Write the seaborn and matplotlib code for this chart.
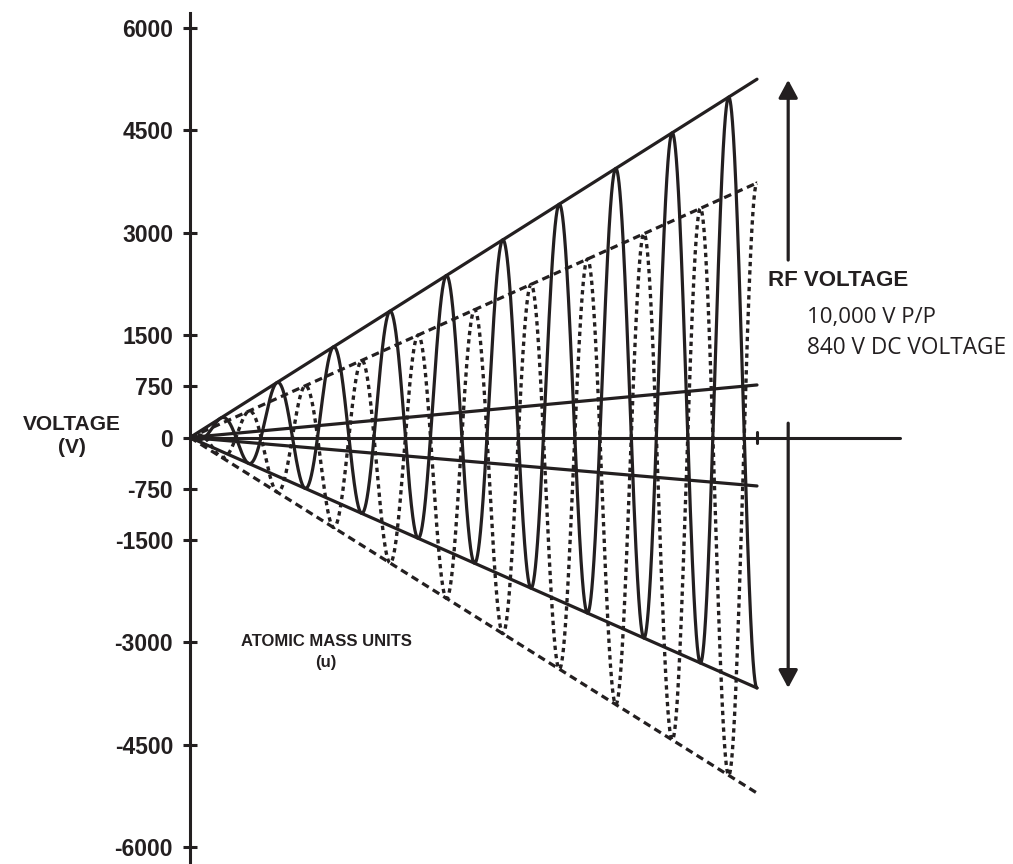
import numpy as np
import pandas as pd
import seaborn as sns
import matplotlib.pyplot as plt

# Data (x in mass units, scan ends at 100; y in volts)
y_ticks = [6000, 4500, 3000, 1500, 750, 0, -750, -1500, -3000, -4500, -6000]
scan_end = 100
solid_envelope = [5250, -3670]     # upper / lower solid line at scan end
dashed_envelope = [3730, -5210]    # upper / lower dashed line at scan end
dc_lines = [770, -710]             # the two thin DC lines at scan end
solid_first_peak = 15.3            # first solid RF maximum
rf_period = 9.96                   # distance between RF maxima
zero_axis_end = 125.2
arrow_up = [2600, 5240]
arrow_down = [210, -3670]

INK = '#231f20'
W, H = 1013, 864

sns.set_style("ticks")
plt.rcParams['font.family'] = ['Liberation Sans', 'DejaVu Sans']

fig = plt.figure(figsize=(W / 100, H / 100), dpi=100)
ax = fig.add_axes([190 / W, 0, (W - 190) / W, (H - 13) / H])

# RF waveforms: ramped amplitude, the two rod pairs in anti-phase
x = np.linspace(0, scan_end, 4000)
ramp = x / scan_end
phase = 2 * np.pi * (x - solid_first_peak) / rf_period
s_mid = (solid_envelope[0] + solid_envelope[1]) / 2
s_amp = (solid_envelope[0] - solid_envelope[1]) / 2
d_mid = (dashed_envelope[0] + dashed_envelope[1]) / 2
d_amp = (dashed_envelope[0] - dashed_envelope[1]) / 2
waves = pd.DataFrame({
    'u': x,
    'solid': ramp * (s_mid + s_amp * np.cos(phase)),
    'dashed': ramp * (d_mid - d_amp * np.cos(phase)),
})

sns.lineplot(data=waves, x='u', y='solid', ax=ax, color=INK, lw=2.3)
sns.lineplot(data=waves, x='u', y='dashed', ax=ax, color=INK, lw=2.4,
             linestyle=(0, (1.3, 1.2)))

# straight envelope and DC lines from the origin
for v in solid_envelope + dc_lines:
    sns.lineplot(x=[0, scan_end], y=[0, v], ax=ax, color=INK, lw=2.3)
for v in dashed_envelope:
    sns.lineplot(x=[0, scan_end], y=[0, v], ax=ax, color=INK, lw=2.3,
                 linestyle=(0, (2.4, 1.5)))

# zero axis with a small mark at the end of the scan
sns.lineplot(x=[0, zero_axis_end], y=[0, 0], ax=ax, color=INK, lw=2.2)
ax.plot([scan_end, scan_end], [-75, 75], color=INK, lw=2.2)

# RF voltage double arrow
arrow_x = 105.5
aprops = dict(arrowstyle='-|>,head_length=0.54,head_width=0.29', lw=2.3,
              color=INK, mutation_scale=20, shrinkA=0, shrinkB=0)
ax.annotate('', xy=(arrow_x, arrow_up[1]), xytext=(arrow_x, arrow_up[0]),
            arrowprops=aprops)
ax.annotate('', xy=(arrow_x, arrow_down[1]), xytext=(arrow_x, arrow_down[0]),
            arrowprops=aprops)

ax.set_xlim(0, (W - 190) / 5.67)
ax.set_ylim(-6249, 6220)
ax.set_xticks([])
ax.set_yticks(y_ticks)
ax.set_yticklabels([str(t) for t in y_ticks])
ax.tick_params(axis='y', direction='inout', length=9.4, width=2.2, pad=7.5,
               labelsize=16.5, color=INK, labelcolor=INK, left=True)
for lbl in ax.get_yticklabels():
    lbl.set_fontweight('bold')
ax.set_xlabel('')
ax.set_ylabel('')
for side in ['top', 'right', 'bottom']:
    ax.spines[side].set_visible(False)
ax.spines['left'].set_linewidth(2.2)
ax.spines['left'].set_color(INK)
ax.patch.set_alpha(0)


def fxy(px, py):
    return px / W, 1 - py / H


fig.text(*fxy(72, 436), 'VOLTAGE\n(V)', ha='center', va='center',
         fontsize=15, fontweight='bold', color=INK, linespacing=1.3)
fig.text(*fxy(326, 652), 'ATOMIC MASS UNITS\n(u)', ha='center', va='center',
         fontsize=12, fontweight='bold', color=INK, linespacing=1.55)
fig.text(*fxy(768, 280), 'RF VOLTAGE', ha='left', va='center',
         fontsize=16, fontweight='bold', color=INK)
fig.text(*fxy(807, 317), '10,000 V P/P', ha='left', va='center',
         fontsize=16, color=INK, family=['Open Sans', 'DejaVu Sans'])
fig.text(*fxy(807, 348), '840 V DC VOLTAGE', ha='left', va='center',
         fontsize=16.3, color=INK, family=['Open Sans', 'DejaVu Sans'])

fig.savefig('out.png', dpi=100, facecolor='white')
